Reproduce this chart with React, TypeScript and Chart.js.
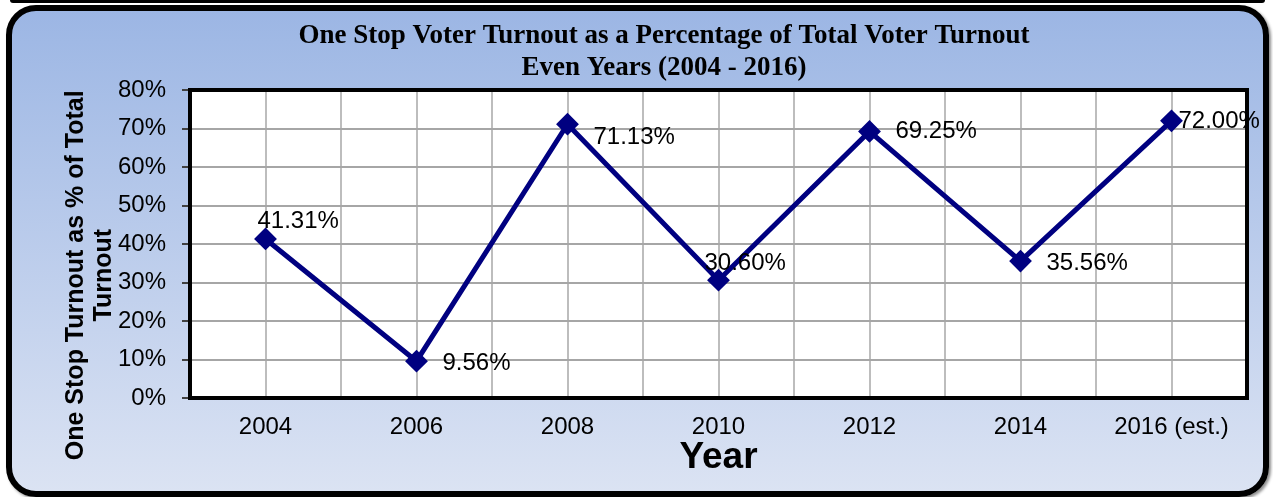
import React, { useEffect, useRef } from 'react';
import { Chart, registerables } from 'chart.js';

Chart.register(...registerables);

// ---- data ----
const years = ['2004', '2006', '2008', '2010', '2012', '2014', '2016 (est.)'];
const turnoutPct = [41.31, 9.56, 71.13, 30.6, 69.25, 35.56, 72.0];
const yMin = 0;
const yMax = 80;
const yStep = 10;
const titleLines = ['One Stop Voter Turnout as a Percentage of Total Voter Turnout', 'Even Years (2004 - 2016)'];
const yAxisTitleLines = ['One Stop Turnout as % of Total', 'Turnout'];
const xAxisTitle = 'Year';
// data-label placement relative to each point (px)
const labelDx = [-8, 26, 26, -14, 26, 26, 7];
const labelDy = [-18, 2, 13, -17, 0, 2, 1];

const SANS = "'Liberation Sans', Arial, sans-serif";
const SERIF = "'Liberation Serif', 'Times New Roman', serif";
const NAVY = '#000080';

const plotFrame = {
  id: 'plotFrame',
  beforeDraw(chart: any) {
    const { ctx, chartArea: a } = chart;
    ctx.save();
    ctx.fillStyle = '#ffffff';
    ctx.fillRect(a.left, a.top, a.right - a.left, a.bottom - a.top);
    ctx.restore();
  },
  beforeDatasetsDraw(chart: any) {
    const { ctx, chartArea: a } = chart;
    ctx.save();
    ctx.strokeStyle = '#000000';
    ctx.lineWidth = 4;
    ctx.strokeRect(a.left, a.top, a.right - a.left, a.bottom - a.top);
    ctx.restore();
  },
};

const pointLabels = {
  id: 'pointLabels',
  afterDatasetsDraw(chart: any) {
    const { ctx } = chart;
    const meta = chart.getDatasetMeta(0);
    ctx.save();
    ctx.font = `24px ${SANS}`;
    ctx.fillStyle = '#000000';
    ctx.textAlign = 'left';
    ctx.textBaseline = 'middle';
    meta.data.forEach((pt: any, i: number) => {
      ctx.fillText(turnoutPct[i].toFixed(2) + '%', pt.x + labelDx[i], pt.y + labelDy[i]);
    });
    ctx.restore();
  },
};

export default function App() {
  const ref = useRef<HTMLCanvasElement | null>(null);

  useEffect(() => {
    document.body.style.margin = '0';
    document.body.style.overflow = 'hidden';
    const canvas = ref.current;
    if (!canvas) return;
    const pad = ' '.repeat(9);
    const chart = new Chart(canvas, {
      type: 'line',
      data: {
        datasets: [
          {
            data: turnoutPct.map((v, i) => ({ x: i, y: v })),
            borderColor: NAVY,
            backgroundColor: NAVY,
            borderWidth: 5,
            pointStyle: 'rectRot',
            pointRadius: 10,
            pointBackgroundColor: NAVY,
            pointBorderColor: NAVY,
            pointBorderWidth: 2,
            tension: 0,
            clip: false as any,
          },
        ],
      },
      options: {
        animation: false,
        responsive: false,
        layout: { padding: { left: 55, right: 0, top: 0, bottom: 0 } },
        plugins: {
          legend: { display: false },
          tooltip: { enabled: false },
          title: {
            display: true,
            text: titleLines,
            color: '#000000',
            font: { family: SERIF, size: 27, weight: 'bold', lineHeight: 1.15 },
            padding: { top: 21, bottom: 6.9 },
          },
        },
        scales: {
          x: {
            type: 'linear',
            min: -0.5,
            max: years.length - 0.5,
            afterFit: (s: any) => {
              s.height = 99;
            },
            ticks: {
              stepSize: 0.5,
              autoSkip: false,
              maxRotation: 0,
              padding: 14.6,
              color: '#000000',
              font: { family: SANS, size: 24, lineHeight: 1.2 },
              callback: (v: any) => (Number.isInteger(v) && v >= 0 && v < years.length ? years[v] : ''),
            },
            grid: { color: '#bdbdbd', lineWidth: 2, drawTicks: false },
            border: { display: false },
            title: {
              display: true,
              text: xAxisTitle,
              color: '#000000',
              font: { family: SANS, size: 37, weight: 'bold', lineHeight: 1.2 },
              padding: { top: 0, bottom: 17 },
            },
          },
          y: {
            type: 'linear',
            position: 'left',
            min: yMin,
            max: yMax,
            afterFit: (s: any) => {
              s.width = 135;
            },
            ticks: {
              stepSize: yStep,
              padding: 16,
              color: '#000000',
              font: { family: SANS, size: 24, lineHeight: 1.2 },
              callback: (v: any) => `${v}%`,
            },
            grid: { color: '#a6a6a6', lineWidth: 2, tickLength: 8, tickColor: '#404040', tickWidth: 2 },
            border: { display: false },
            title: {
              display: true,
              text: yAxisTitleLines.map((t) => t + pad),
              color: '#000000',
              font: { family: SANS, size: 25, weight: 'bold', lineHeight: 1.12 },
              padding: { top: 7, bottom: 0 },
            },
          },
          yR: {
            type: 'linear',
            position: 'right',
            display: true,
            afterFit: (s: any) => {
              s.width = 26;
            },
            ticks: { display: false },
            grid: { display: false, drawTicks: false },
            border: { display: false },
          },
        },
      } as any,
      plugins: [plotFrame, pointLabels],
    });
    return () => chart.destroy();
  }, []);

  return (
    <div style={{ position: 'relative', width: 1273, height: 497, overflow: 'hidden', background: '#ffffff' }}>
      <div
        style={{
          position: 'absolute',
          left: 10,
          top: 0,
          width: 1255,
          height: 3,
          background: '#000000',
          borderRadius: '0 0 8px 8px',
        }}
      />
      <div
        style={{
          position: 'absolute',
          left: 6,
          top: 5,
          width: 1263,
          height: 492,
          boxSizing: 'border-box',
          border: '6px solid #000000',
          borderRadius: 30,
          background: 'linear-gradient(180deg, #9cb6e4 0%, #dbe3f3 100%)',
          boxShadow: '2px 2px 3px rgba(0,0,0,0.45)',
        }}
      />
      <canvas ref={ref} width={1273} height={497} style={{ position: 'absolute', left: 0, top: 0 }} />
    </div>
  );
}
